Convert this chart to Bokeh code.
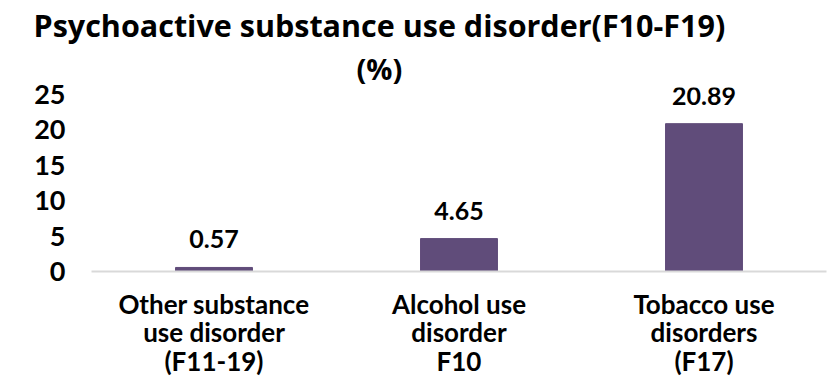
from bokeh.plotting import figure
from bokeh.models import ColumnDataSource, Range1d, FactorRange, Title, FixedTicker
from bokeh.embed import file_html
from bokeh.resources import INLINE
from bokeh.core.properties import value

# Data
categories = ["Other substance\nuse disorder\n(F11-19)",
              "Alcohol use\ndisorder\nF10",
              "Tobacco use\ndisorders\n(F17)"]
percentages = [0.57, 4.65, 20.89]
y_ticks = [0, 5, 10, 15, 20, 25]

FONT = "Lato"
TITLE_FONT = "Open Sans"
BAR_COLOR = "#604C7A"

source = ColumnDataSource(data=dict(
    cat=categories,
    pct=percentages,
    txt=["{:.2f}".format(v) for v in percentages],
))

p = figure(
    width=837, height=383,
    x_range=FactorRange(*categories),
    y_range=Range1d(0, 26),
    output_backend="svg",
    toolbar_location=None,
    min_border_left=91, min_border_right=11,
    min_border_bottom=112, min_border_top=0,
)

# Two-line title: first line on top, "(%)" just above the plot
p.title.text = "Psychoactive substance use disorder(F10-F19)"
p.title.align = "left"
p.title.offset = -58
p.title.text_font = TITLE_FONT
p.title.text_font_size = "30.5px"
p.title.text_font_style = "bold"
p.title.text_color = "#000000"
p.title.standoff = 2

unit_title = Title(text="(%)", align="left", offset=265,
                   text_font=TITLE_FONT, text_font_size="29px",
                   text_font_style="bold", text_color="#000000", standoff=0)
p.add_layout(unit_title, "above")

p.vbar(x="cat", top="pct", width=0.314, source=source,
       fill_color=BAR_COLOR, line_color=BAR_COLOR)

p.text(x="cat", y="pct", text="txt", source=source,
       text_align="center", text_baseline="bottom", y_offset=-19,
       text_font=value(FONT), text_font_size="25px",
       text_font_style="bold", text_color="#000000")

# Axes
p.xaxis.axis_line_color = "#d9d9d9"
p.xaxis.axis_line_width = 2
p.xaxis.major_tick_line_color = None
p.xaxis.minor_tick_line_color = None
p.xaxis.major_label_standoff = 10
p.xaxis.major_label_text_font = FONT
p.xaxis.major_label_text_font_size = "26px"
p.xaxis.major_label_text_font_style = "bold"
p.xaxis.major_label_text_color = "#000000"
p.xaxis.major_label_text_line_height = 0.9

p.yaxis.ticker = FixedTicker(ticks=y_ticks)
p.yaxis.axis_line_color = None
p.yaxis.major_tick_line_color = None
p.yaxis.minor_tick_line_color = None
p.yaxis.major_tick_out = 0
p.yaxis.major_label_standoff = 26
p.yaxis.major_label_text_font = FONT
p.yaxis.major_label_text_font_size = "27px"
p.yaxis.major_label_text_font_style = "bold"
p.yaxis.major_label_text_color = "#000000"

p.xgrid.grid_line_color = None
p.ygrid.grid_line_color = None
p.outline_line_color = None

open("out.html", "w").write(file_html(p, INLINE))
